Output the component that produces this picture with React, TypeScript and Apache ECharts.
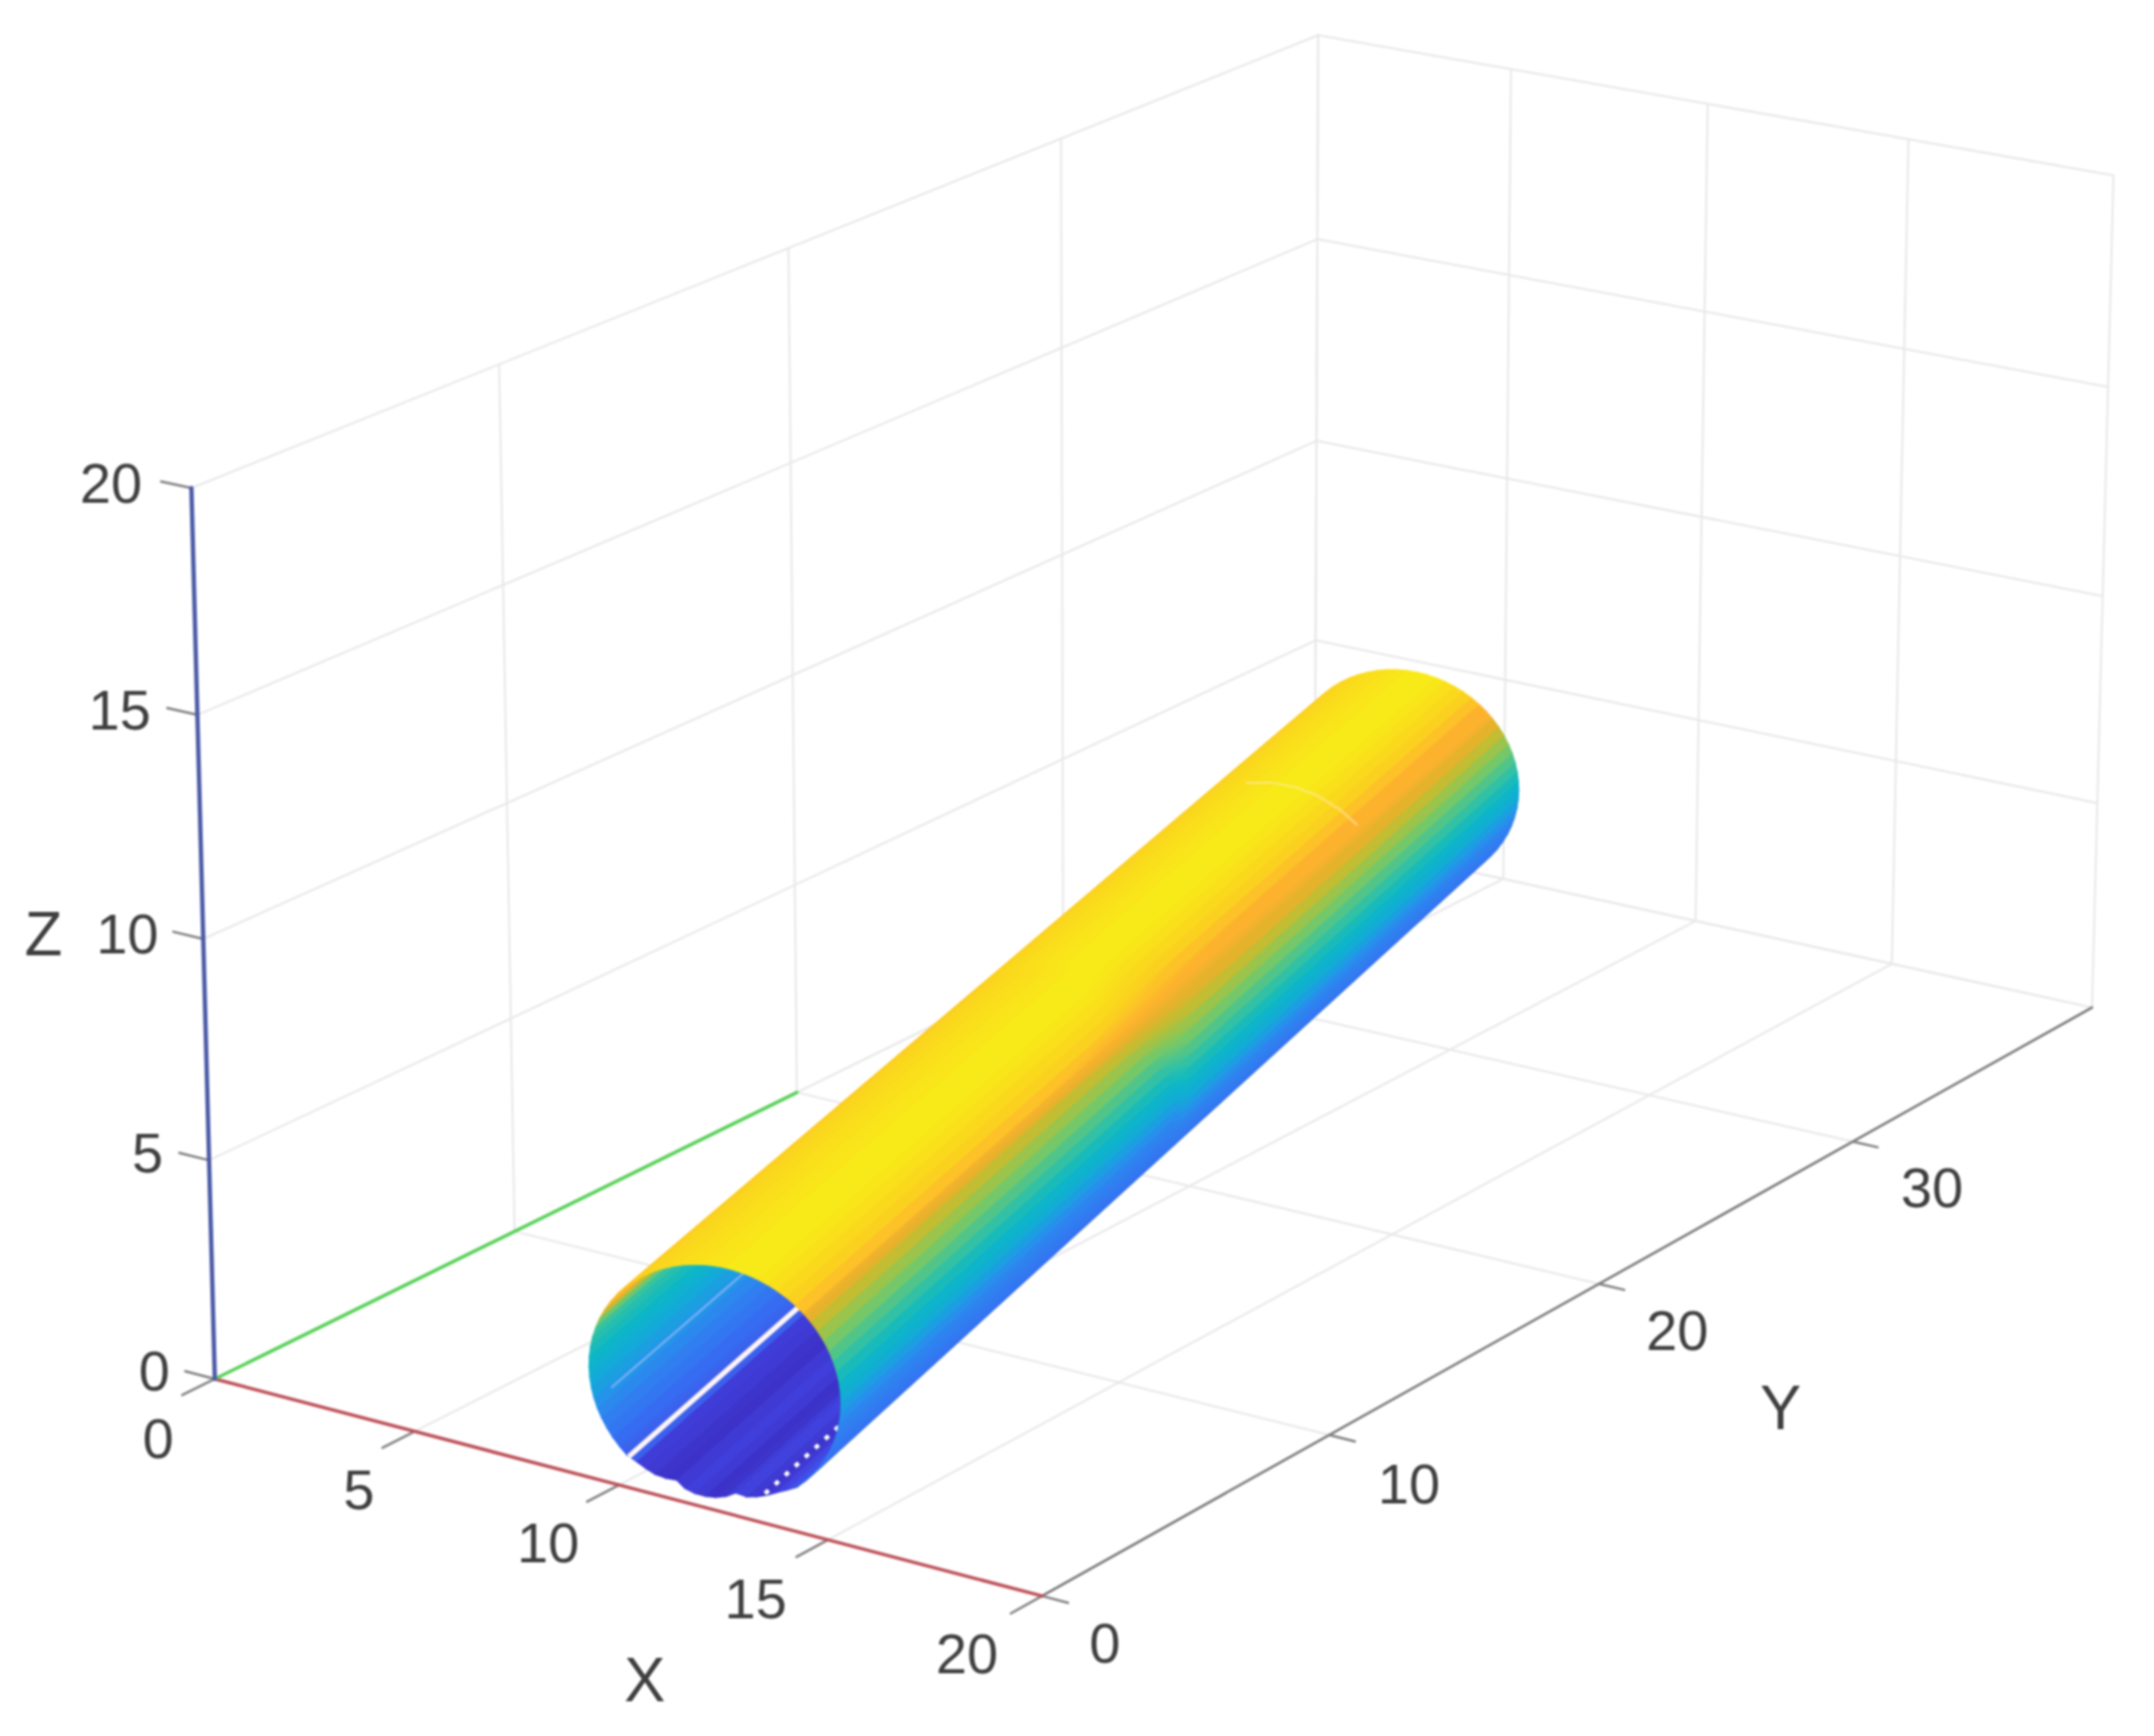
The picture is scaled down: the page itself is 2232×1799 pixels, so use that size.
import React, { useEffect, useRef } from "react";
import * as echarts from "echarts";

// ---------- axis data ----------
const xTicks = [0, 5, 10, 15, 20];
const yTicks = [0, 10, 20, 30, 40];
const zTicks = [0, 5, 10, 15, 20];
const xTickLabels = ["0", "5", "10", "15", "20"];
const yTickLabels = ["0", "10", "20", "30"];
const zTickLabels = ["0", "5", "10", "15", "20"];
const axisNames = ["X", "Y", "Z"];
const greenLineEnd = 20;

// ---------- tube data (world units) ----------
const tubeFront = [12.1, 0.33, 2.65];
const tubeBack = [3.3, 38.6, 2.65];
const ringAngles = [
  0, 5, 10, 15, 20, 25, 30, 35, 40, 45, 50, 55, 60, 65, 70, 75, 80, 85, 90, 95, 100, 105, 110, 115,
  120, 125, 130, 135, 140, 145, 150, 155, 160, 165, 170, 175, 180, 185, 190, 195, 200, 205, 210, 215,
  220, 225, 230, 235, 240, 245, 250, 255, 260, 265, 270, 275, 280, 285, 290, 295, 300, 305, 310, 315,
  320, 325, 330, 335, 340, 345, 350, 355,
];
const ringRadius = [
  2.65, 2.65, 2.65, 2.65, 2.65, 2.65, 2.65, 2.65, 2.65, 2.65, 2.65, 2.65, 2.65, 2.65, 2.65, 2.65, 2.65, 2.65, 2.65, 2.65, 2.65, 2.65, 2.65, 2.65,
  2.65, 2.65, 2.65, 2.65, 2.65, 2.65, 2.65, 2.65, 2.65, 2.65, 2.65, 2.65, 2.65, 2.65, 2.65, 2.65, 2.65, 2.65, 2.65, 2.65,
  2.65, 2.65, 2.6, 2.58, 2.56, 2.5, 2.42, 2.52, 2.55, 2.55, 2.53, 2.48, 2.4, 2.5, 2.53, 2.55, 2.56, 2.6, 2.65, 2.65,
  2.65, 2.65, 2.65, 2.65, 2.65, 2.65, 2.65, 2.65,
];
const ringValues = [
  0.43, 0.46, 0.5, 0.54, 0.585, 0.63, 0.67, 0.715, 0.77, 0.82, 0.86, 0.9, 0.93, 0.96, 0.985, 1, 1, 0.995,
  0.98, 0.97, 0.96, 0.95, 0.94, 0.93, 0.92, 0.91, 0.9, 0.88, 0.86, 0.84, 0.82, 0.72, 0.62, 0.55, 0.52, 0.5,
  0.47, 0.44, 0.41, 0.37, 0.33, 0.29, 0.25, 0.22, 0.19, 0.16,
  0.06, 0.05, 0.03, 0.02, 0.05, 0.07, 0.05, 0.02, 0.03, 0.06, 0.08, 0.05, 0.03, 0.05, 0.09, 0.12,
  0.17, 0.19, 0.2, 0.21, 0.22, 0.235, 0.25, 0.27, 0.31, 0.37,
];
// seams seen through the tube: angle, start and end along the tube
const seamAngles = [226, 197, 288];
const seamStart = [0, 0.02, 0];
const seamEnd = [0.6, 0.2, 0.11];
const seamColors = ["#fdf4fa", "#6fb0f2", "#ffffff"];
const seamWidths = [5.5, 2.5, 4.5];
const seamDash: (number[] | null)[] = [null, null, [5, 9]];
const markAngles = [105, 92, 80, 68, 56, 45];
const markPosition = 0.79;

// ---------- colours and layout ----------
const heightStops = [0, 0.1, 0.2, 0.3, 0.4, 0.48, 0.56, 0.64, 0.7, 0.76, 0.82, 0.9, 1];
const heightColors = ["#3a2cc0", "#4347e6", "#3570f2", "#2a8cee", "#14a7dc", "#0cb8c4", "#3ec49a", "#7cc862", "#b8c034", "#e0b22c", "#fdb22e", "#fbd11f", "#f8ea18"];

const xLabelPos = [[164, 1490], [372, 1543], [568, 1598], [783, 1656], [1002, 1713]];
const yLabelPos = [[1145, 1702], [1460, 1537], [1738, 1378], [2002, 1230]];
const zLabelPos = [[160, 1420], [153, 1194], [132, 967], [124, 735], [115, 500]];
const namePos = [[668, 1741], [1845, 1459], [45, 968]];

// box corners and ticks as seen on screen, used to fit the camera
const cameraAnchors = [
  [0, 0, 0, 225, 1430], [20, 0, 0, 1082, 1649], [20, 40, 0, 2167, 1045], [0, 40, 0, 1362, 866],
  [0, 0, 20, 199, 507], [0, 40, 20, 1366, 35], [20, 40, 20, 2190, 182], [5, 40, 0, 1560, 910],
  [15, 40, 0, 1958, 1000], [0, 40, 5, 1363, 665], [15, 40, 20, 1978, 143], [15, 40, 15, 1972, 363],
  [10, 0, 0, 637, 1540], [15, 0, 0, 853, 1595], [20, 10, 0, 1381, 1490], [20, 20, 0, 1660, 1330],
];

// ---------- helpers ----------
function solve(M: number[][], b: number[]) {
  const n = b.length;
  const a = M.map((r, i) => [...r, b[i]]);
  for (let c = 0; c < n; c++) {
    let p = c;
    for (let r = c + 1; r < n; r++) if (Math.abs(a[r][c]) > Math.abs(a[p][c])) p = r;
    [a[c], a[p]] = [a[p], a[c]];
    for (let r = 0; r < n; r++) {
      if (r === c) continue;
      const f = a[r][c] / a[c][c];
      for (let k = c; k <= n; k++) a[r][k] -= f * a[c][k];
    }
  }
  return a.map((r, i) => r[n] / r[i]);
}

function fitCamera() {
  const ata = Array.from({ length: 11 }, () => new Array(11).fill(0));
  const atb = new Array(11).fill(0);
  const add = (row: number[], t: number) => {
    for (let i = 0; i < 11; i++) {
      atb[i] += row[i] * t;
      for (let j = 0; j < 11; j++) ata[i][j] += row[i] * row[j];
    }
  };
  for (const [x, y, z, u, v] of cameraAnchors) {
    add([x, y, z, 1, 0, 0, 0, 0, -u * x, -u * y, -u * z], u);
    add([0, 0, 0, 0, x, y, z, 1, -v * x, -v * y, -v * z], v);
  }
  return solve(ata, atb);
}
const cam = fitCamera();
function project(x: number, y: number, z: number) {
  const w = cam[8] * x + cam[9] * y + cam[10] * z + 1;
  return [(cam[0] * x + cam[1] * y + cam[2] * z + cam[3]) / w, (cam[4] * x + cam[5] * y + cam[6] * z + cam[7]) / w];
}

const sub = (a: number[], b: number[]) => [a[0] - b[0], a[1] - b[1], a[2] - b[2]];
const norm = (a: number[]) => {
  const l = Math.hypot(a[0], a[1], a[2]);
  return [a[0] / l, a[1] / l, a[2] / l];
};
const cross = (a: number[], b: number[]) => [a[1] * b[2] - a[2] * b[1], a[2] * b[0] - a[0] * b[2], a[0] * b[1] - a[1] * b[0]];
const tubeAxis = norm(sub(tubeBack, tubeFront));
const tubeU = norm(cross(tubeAxis, [0, 0, 1]));
const tubeW = cross(tubeU, tubeAxis);

function tubePoint(angle: number, radius: number, t: number) {
  const a = (angle * Math.PI) / 180;
  const c = Math.cos(a) * radius;
  const s = Math.sin(a) * radius;
  return project(
    tubeFront[0] + (tubeBack[0] - tubeFront[0]) * t + c * tubeU[0] + s * tubeW[0],
    tubeFront[1] + (tubeBack[1] - tubeFront[1]) * t + c * tubeU[1] + s * tubeW[1],
    tubeFront[2] + (tubeBack[2] - tubeFront[2]) * t + c * tubeU[2] + s * tubeW[2]
  );
}

function hex(c: string) {
  return [parseInt(c.slice(1, 3), 16), parseInt(c.slice(3, 5), 16), parseInt(c.slice(5, 7), 16)];
}
function heightColor(v: number) {
  let i = 0;
  while (i < heightStops.length - 2 && v > heightStops[i + 1]) i++;
  const f = Math.max(0, Math.min(1, (v - heightStops[i]) / (heightStops[i + 1] - heightStops[i])));
  const a = hex(heightColors[i]);
  const b = hex(heightColors[i + 1]);
  return `rgb(${a.map((q, k) => Math.round(q + (b[k] - q) * f)).join(",")})`;
}

function stripQuad(i: number) {
  const n = ringAngles.length;
  const j = (i + 1) % n;
  const a0 = ringAngles[i];
  const a1 = j === 0 ? ringAngles[0] + 360 : ringAngles[j];
  return [
    tubePoint(a0, ringRadius[i], 0),
    tubePoint(a1, ringRadius[j], 0),
    tubePoint(a1, ringRadius[j], 1),
    tubePoint(a0, ringRadius[i], 1),
  ];
}
function quadArea(q: number[][]) {
  let s = 0;
  for (let i = 0; i < q.length; i++) {
    const p = q[i];
    const r = q[(i + 1) % q.length];
    s += p[0] * r[1] - r[0] * p[1];
  }
  return s;
}
const outerSign = Math.sign(quadArea(stripQuad(ringAngles.indexOf(90))));

// base pass: flat strips with a stroke, closes the hairlines between the gradient strips above it
function stripSeries(name: string, outer: boolean, base: boolean) {
  return {
    type: "custom",
    name,
    coordinateSystem: "cartesian2d",
    clip: false,
    silent: true,
    data: ringAngles.map((_, i) => [i]),
    renderItem: (_p: any, api: any) => {
      const i = api.value(0);
      const q = stripQuad(i);
      if ((Math.sign(quadArea(q)) === outerSign) !== outer) return null;
      const pts = q.map((p) => api.coord(p));
      const j = (i + 1) % ringAngles.length;
      const c0 = heightColor(ringValues[i]);
      const c1 = heightColor(ringValues[j]);
      if (base) {
        const mid = heightColor((ringValues[i] + ringValues[j]) / 2);
        return { type: "polygon", shape: { points: pts }, style: { fill: mid, stroke: mid, lineWidth: 1.5 } };
      }
      const m0 = [(pts[0][0] + pts[3][0]) / 2, (pts[0][1] + pts[3][1]) / 2];
      const m1 = [(pts[1][0] + pts[2][0]) / 2, (pts[1][1] + pts[2][1]) / 2];
      const fill = new echarts.graphic.LinearGradient(m0[0], m0[1], m1[0], m1[1], [
        { offset: 0, color: c0 },
        { offset: 1, color: c1 },
      ], true);
      return { type: "polygon", shape: { points: pts }, style: { fill } };
    },
  };
}

function segmentSeries(name: string, segs: number[][], color: string, width: number) {
  return {
    type: "custom",
    name,
    coordinateSystem: "cartesian2d",
    clip: false,
    silent: true,
    data: segs,
    renderItem: (_p: any, api: any) => {
      const a = api.coord(project(api.value(0), api.value(1), api.value(2)));
      const b = api.coord(project(api.value(3), api.value(4), api.value(5)));
      return {
        type: "line",
        shape: { x1: a[0], y1: a[1], x2: b[0], y2: b[1] },
        style: { stroke: color, lineWidth: width, lineCap: "round", fill: null },
      };
    },
  };
}

function labelSeries(name: string, labels: string[], pos: number[][], size: number) {
  return {
    type: "custom",
    name,
    coordinateSystem: "cartesian2d",
    clip: false,
    silent: true,
    data: labels.map((_, i) => [pos[i][0], pos[i][1], i]),
    renderItem: (_p: any, api: any) => {
      const c = api.coord([api.value(0), api.value(1)]);
      return {
        type: "text",
        style: {
          text: labels[api.value(2)],
          x: c[0],
          y: c[1],
          textAlign: "center",
          textVerticalAlign: "middle",
          fill: "#3f3f3f",
          fontSize: size,
          fontFamily: "'Liberation Sans', Arial, sans-serif",
        },
      };
    },
  };
}

function buildOption() {
  const xMax = xTicks[xTicks.length - 1];
  const yMax = yTicks[yTicks.length - 1];
  const zMax = zTicks[zTicks.length - 1];
  const grid: number[][] = [];
  for (const x of xTicks) {
    grid.push([x, 0, 0, x, yMax, 0]);
    grid.push([x, yMax, 0, x, yMax, zMax]);
  }
  for (const y of yTicks) {
    grid.push([0, y, 0, xMax, y, 0]);
    grid.push([0, y, 0, 0, y, zMax]);
  }
  for (const z of zTicks) {
    grid.push([0, 0, z, 0, yMax, z]);
    grid.push([0, yMax, z, xMax, yMax, z]);
  }
  const ticks: number[][] = [];
  for (const x of xTicks) ticks.push([x, 0, 0, x, -1.05, 0]);
  for (const y of yTicks.slice(0, 4)) ticks.push([xMax, y, 0, xMax + 0.6, y, 0]);
  for (const z of zTicks) ticks.push([0, 0, z, -0.75, 0, z]);

  const seams = {
    type: "custom",
    name: "tube seams",
    coordinateSystem: "cartesian2d",
    clip: false,
    silent: true,
    data: seamAngles.map((_, i) => [i]),
    renderItem: (_p: any, api: any) => {
      const i = api.value(0);
      const a = api.coord(tubePoint(seamAngles[i], 2.65, seamStart[i]));
      const b = api.coord(tubePoint(seamAngles[i], 2.65, seamEnd[i]));
      return {
        type: "line",
        shape: { x1: a[0], y1: a[1], x2: b[0], y2: b[1] },
        style: { stroke: seamColors[i], lineWidth: seamWidths[i], lineDash: seamDash[i] || undefined, fill: null },
      };
    },
  };
  const mark = {
    type: "custom",
    name: "tube mark",
    coordinateSystem: "cartesian2d",
    clip: false,
    silent: true,
    data: [[markPosition]],
    renderItem: (_p: any, api: any) => ({
      type: "polyline",
      shape: { points: markAngles.map((a) => api.coord(tubePoint(a, 2.65, api.value(0)))) },
      style: { stroke: "#ffe9a0", lineWidth: 2.5, fill: null, opacity: 0.6 },
    }),
  };

  return {
    animation: false,
    backgroundColor: "#ffffff",
    grid: { left: 0, right: 0, top: 0, bottom: 0 },
    xAxis: { type: "value", min: 0, max: 2232, show: false },
    yAxis: { type: "value", min: 0, max: 1799, inverse: true, show: false },
    series: [
      segmentSeries("box grid", grid, "#e9e7e9", 2),
      segmentSeries("y axis", [[xMax, 0, 0, xMax, yMax, 0]], "#777777", 2.5),
      segmentSeries("ticks", ticks, "#808080", 2.5),
      segmentSeries("x line", [[0, 0, 0, xMax, 0, 0]], "#bd5058", 3.5),
      segmentSeries("green line", [[0, 0, 0, 0, greenLineEnd, 0]], "#58d058", 3.5),
      segmentSeries("z line", [[0, 0, 0, 0, 0, zMax]], "#4a5aa6", 4.5),
      stripSeries("tube inside base", false, true),
      stripSeries("tube inside", false, false),
      seams,
      stripSeries("tube outside base", true, true),
      stripSeries("tube outside", true, false),
      mark,
      labelSeries("x labels", xTickLabels, xLabelPos, 58),
      labelSeries("y labels", yTickLabels, yLabelPos, 58),
      labelSeries("z labels", zTickLabels, zLabelPos, 58),
      labelSeries("axis names", axisNames, namePos, 64),
    ],
  };
}

export default function App() {
  const ref = useRef<HTMLDivElement>(null);
  useEffect(() => {
    const chart = echarts.init(ref.current!, undefined, { renderer: "svg" });
    chart.setOption(buildOption() as any);
    return () => chart.dispose();
  }, []);
  return (
    <div
      ref={ref}
      style={{ position: "absolute", left: 0, top: 0, width: 2232, height: 1799, filter: "blur(1px)" }}
    />
  );
}
